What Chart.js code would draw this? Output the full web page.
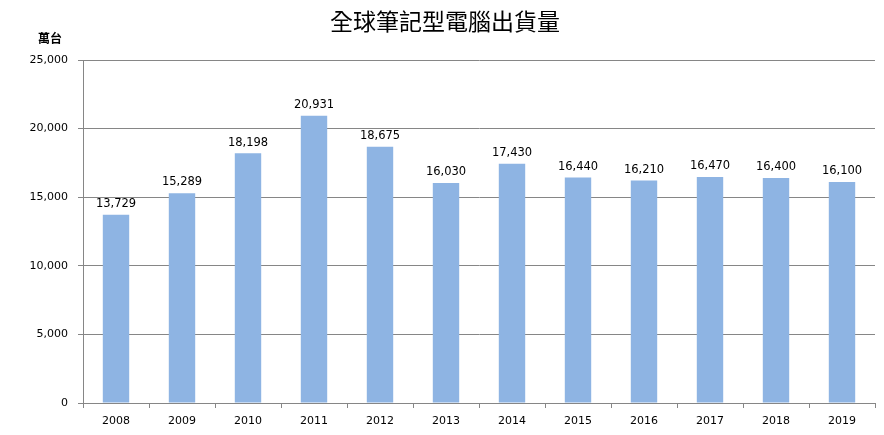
<!DOCTYPE html>
<html>
<head>
<meta charset="utf-8">
<script src="https://cdn.jsdelivr.net/npm/chart.js@4"></script>
<style>
  body { margin: 0; background: #fff; }
  canvas { display: block; }
</style>
</head>
<body>
<canvas id="grafico" width="884" height="435"></canvas>
<script>
const anos = ['2008', '2009', '2010', '2011', '2012', '2013', '2014', '2015', '2016', '2017', '2018', '2019'];
const envios = [13729, 15289, 18198, 20931, 18675, 16030, 17430, 16440, 16210, 16470, 16400, 16100];
const ticksY = [0, 5000, 10000, 15000, 20000, 25000];

const titulo = '全球筆記型電腦出貨量';
const unidade = '萬台';

const fmt = v => v.toLocaleString('en-US');

// títulos e rótulos de valor
const extras = {
    id: 'extras',
    afterDatasetsDraw(chart) {
        const ctx = chart.ctx;
        ctx.save();
        ctx.fillStyle = '#000';
        ctx.textAlign = 'center';
        ctx.textBaseline = 'middle';
        ctx.font = '23px "Noto Sans CJK TC"';
        ctx.fillText(titulo, 445, 21);
        ctx.font = 'bold 12px "Noto Sans CJK TC"';
        ctx.fillText(unidade, 50, 38);

        ctx.font = '11.5px "DejaVu Sans"';
        ctx.textBaseline = 'bottom';
        const meta = chart.getDatasetMeta(0);
        meta.data.forEach((bar, i) => {
            ctx.fillText(fmt(envios[i]), bar.x, bar.y - 5);
        });
        ctx.restore();
    }
};

new Chart(document.getElementById('grafico'), {
    type: 'bar',
    data: {
        labels: anos,
        datasets: [{
            data: envios,
            backgroundColor: 'rgb(142, 180, 227)',
            borderWidth: 0,
            barPercentage: 0.4,
            categoryPercentage: 1
        }]
    },
    options: {
        responsive: false,
        animation: false,
        layout: { padding: { top: 60, right: 9, bottom: 0, left: 0 } },
        plugins: {
            legend: { display: false },
            tooltip: { enabled: false }
        },
        scales: {
            x: {
                afterFit(s) { s.height = 32; },
                grid: {
                    offset: true,
                    drawOnChartArea: false,
                    drawTicks: true,
                    tickLength: 5,
                    color: '#868686'
                },
                border: { display: false },
                ticks: {
                    color: '#000',
                    font: { family: 'DejaVu Sans', size: 11 },
                    padding: 7,
                    maxRotation: 0
                }
            },
            y: {
                min: 0,
                max: 25000,
                afterFit(s) { s.width = 83; },
                afterBuildTicks(s) { s.ticks = ticksY.map(v => ({ value: v })); },
                grid: {
                    color: '#868686',
                    tickLength: 5
                },
                border: { display: true, color: '#868686' },
                ticks: {
                    color: '#000',
                    font: { family: 'DejaVu Sans', size: 11 },
                    padding: 10,
                    callback: v => fmt(v)
                }
            }
        }
    },
    plugins: [extras]
});
</script>
</body>
</html>
